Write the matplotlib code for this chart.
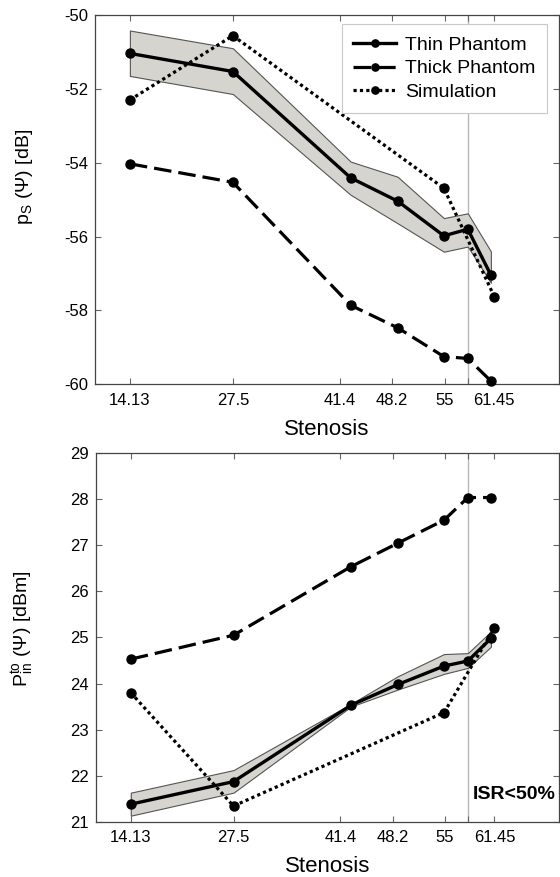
import matplotlib
matplotlib.use("Agg")
import matplotlib.pyplot as plt

plt.rcParams['font.family'] = ['Liberation Sans', 'DejaVu Sans']
plt.rcParams['mathtext.fontset'] = 'custom'
plt.rcParams['mathtext.rm'] = 'Liberation Sans'
plt.rcParams['mathtext.it'] = 'Liberation Sans:italic'
plt.rcParams['mathtext.bf'] = 'Liberation Sans:bold'

# ---------------- data ----------------
stenosis = [14.13, 27.5, 42.8, 48.9, 54.9, 58.0, 61.0]
sim_stenosis = [14.13, 27.5, 54.9, 61.45]
tick_positions = [14.13, 27.5, 41.4, 48.2, 55, 58.0, 61.45]
tick_labels = ['14.13', '27.5', '41.4', '48.2', '55', '', '61.45']
isr_boundary = 58.0

ps_thin = [-51.04, -51.53, -54.41, -55.04, -55.98, -55.80, -57.04]
ps_thin_hi = [-50.42, -50.90, -53.97, -54.38, -55.50, -55.37, -56.40]
ps_thin_lo = [-51.65, -52.14, -54.87, -55.64, -56.41, -56.27, -57.25]
ps_thick = [-54.03, -54.53, -57.86, -58.47, -59.25, -59.30, -59.91]
ps_sim = [-52.30, -50.56, -54.69, -57.63]

pin_thin = [21.38, 21.87, 23.53, 23.98, 24.38, 24.49, 24.98]
pin_thin_hi = [21.63, 22.12, 23.56, 24.16, 24.64, 24.66, 25.13]
pin_thin_lo = [21.13, 21.63, 23.50, 23.87, 24.21, 24.34, 24.80]
pin_thick = [24.53, 25.05, 26.54, 27.05, 27.55, 28.04, 28.04]
pin_sim = [23.80, 21.34, 23.37, 25.21]

series_labels = ['Thin Phantom', 'Thick Phantom', 'Simulation']

# ---------------- figure ----------------
fig = plt.figure(figsize=(5.6, 8.77), dpi=100)
ax1 = fig.add_axes([0.1696, 0.5618, 0.828, 0.4211])
ax2 = fig.add_axes([0.1714, 0.0631, 0.826, 0.4200])

spine_col = '#454545'
band_fill = '#d6d4ce'
band_edge = '#555555'
mk = 6.5

def style(ax, ylim, yticks):
    ax.set_xlim(9.6, 69.8)
    ax.set_ylim(*ylim)
    ax.set_yticks(yticks)
    ax.set_yticklabels([f'{v:g}' for v in yticks])
    ax.set_xticks(tick_positions)
    ax.set_xticklabels(tick_labels)
    ax.tick_params(direction='in', length=4, width=0.8, color='#666666',
                   labelsize=12, top=True, right=True)
    ax.tick_params(axis='x', pad=6)
    ax.tick_params(axis='y', pad=5)
    for s in ax.spines.values():
        s.set_color(spine_col)
        s.set_linewidth(0.9)
    ax.axvline(isr_boundary, color='#b8b8b8', lw=1.0, zorder=1)
    ax.set_xlabel('Stenosis', fontsize=16, labelpad=8)

def draw(ax, thin, lo, hi, thick, sim):
    ax.fill_between(stenosis, lo, hi, facecolor=band_fill, edgecolor=band_edge,
                    linewidth=0.8, zorder=2)
    l1, = ax.plot(stenosis, thin, '-', color='black', lw=2.4, marker='o',
                  ms=mk, zorder=4, clip_on=False, label=series_labels[0])
    l2, = ax.plot(stenosis, thick, color='black', lw=2.3, ls=(0, (5.5, 2.2)),
                  marker='o', ms=mk, zorder=4, clip_on=False, label=series_labels[1])
    l3, = ax.plot(sim_stenosis, sim, color='black', lw=2.3, ls=(0, (1, 1)),
                  marker='o', ms=mk, zorder=3, clip_on=False, label=series_labels[2])
    return [l1, l2, l3]

handles = draw(ax1, ps_thin, ps_thin_lo, ps_thin_hi, ps_thick, ps_sim)
style(ax1, (-60, -50), [-60, -58, -56, -54, -52, -50])
ax1.set_ylabel(r'$\mathregular{p_S}$ (Ψ) [dB]', fontsize=14)
ax1.yaxis.set_label_coords(-0.13, 0.56)

leg = ax1.legend(handles=handles, loc='upper right', bbox_to_anchor=(0.975, 0.975),
                 borderaxespad=0, fontsize=14, frameon=True, fancybox=False,
                 framealpha=1, edgecolor='#c8c8c8', handlelength=2.2,
                 handletextpad=0.45, labelspacing=0.32, borderpad=0.6,
                 markerscale=0.8)
leg.get_frame().set_linewidth(0.8)

draw(ax2, pin_thin, pin_thin_lo, pin_thin_hi, pin_thick, pin_sim)
style(ax2, (21, 29), [21, 22, 23, 24, 25, 26, 27, 28, 29])
ax2.set_ylabel(r'$\mathregular{P_{in}^{to}}$ (Ψ) [dBm]', fontsize=14)
ax2.yaxis.set_label_coords(-0.13, 0.523)
ax2.text(58.6, 21.58, 'ISR<50%', fontsize=14, fontweight='bold',
         ha='left', va='center', clip_on=False)

fig.savefig('out.png', dpi=100)
